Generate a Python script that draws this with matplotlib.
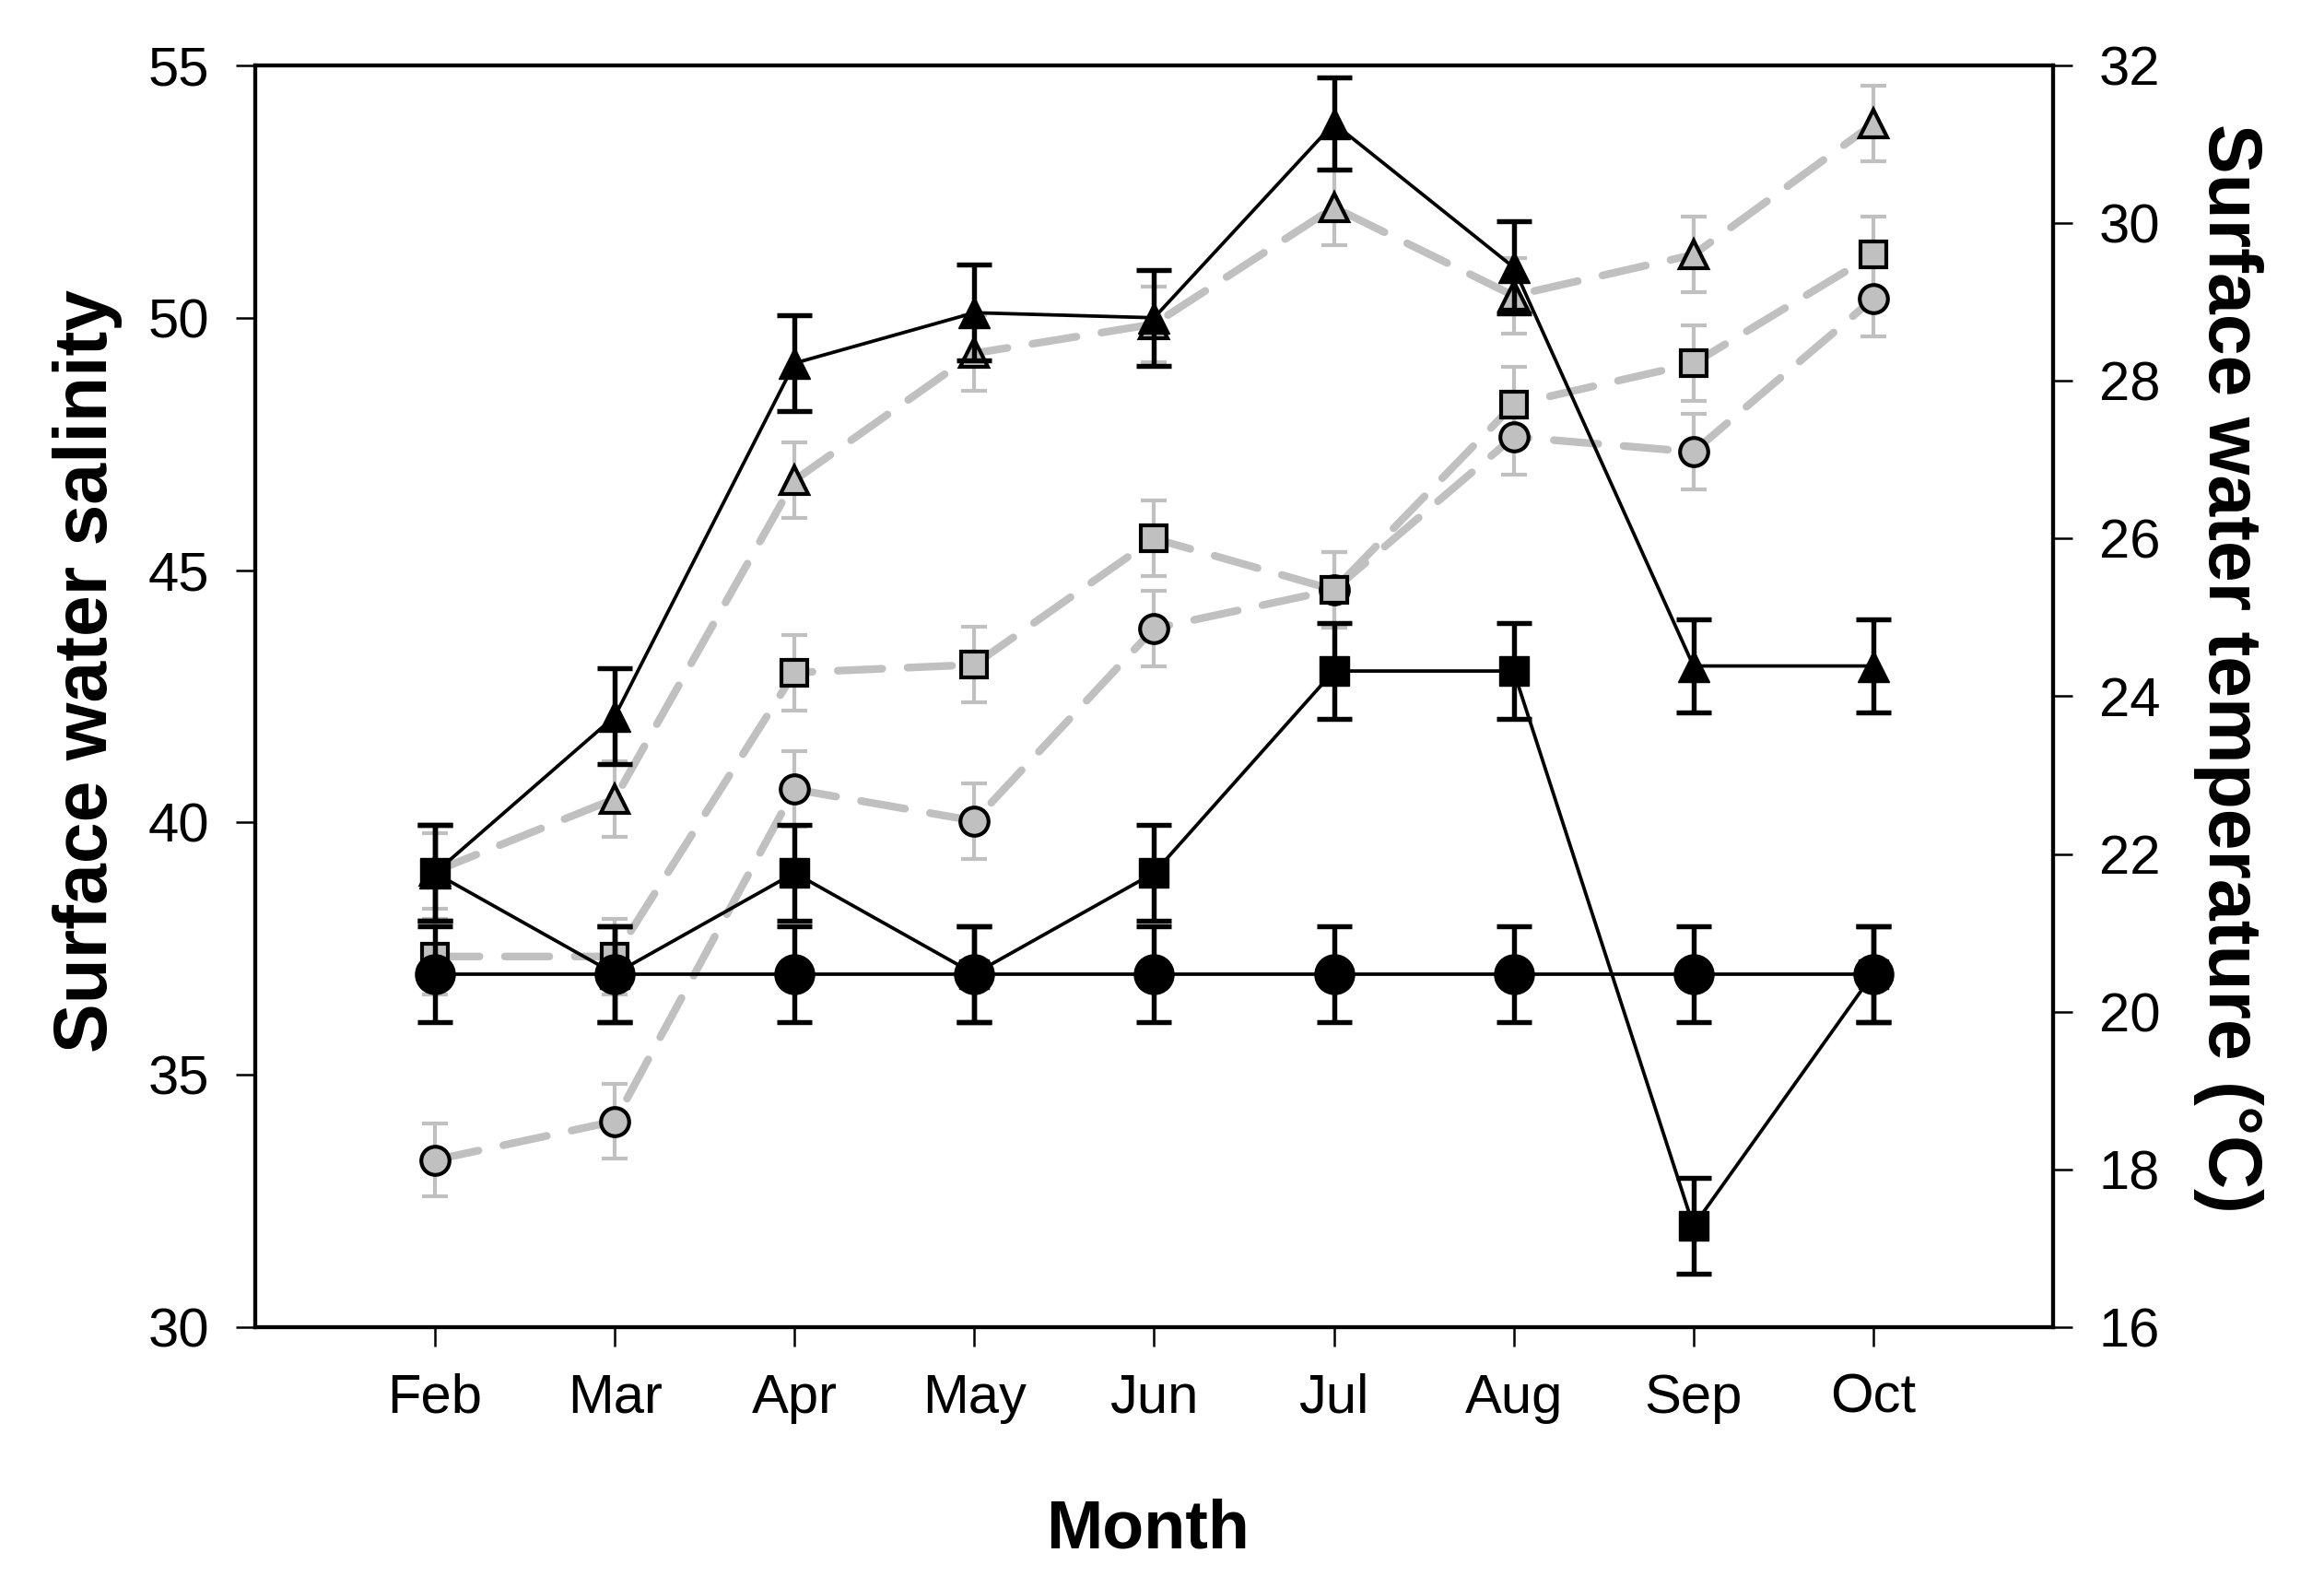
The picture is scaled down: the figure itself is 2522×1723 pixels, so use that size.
import numpy as np
import matplotlib.pyplot as plt

plt.rcParams['font.family'] = ['Liberation Sans', 'DejaVu Sans']

months = ['Feb', 'Mar', 'Apr', 'May', 'Jun', 'Jul', 'Aug', 'Sep', 'Oct']

# salinity (left axis), black solid lines
sal_circle = [37, 37, 37, 37, 37, 37, 37, 37, 37]
sal_circle_err = [0.95, 0.95, 0.95, 0.95, 0.95, 0.95, 0.95, 0.95, 0.95]
sal_square = [39, 37, 39, 37, 39, 43, 43, 32, 37]
sal_square_err = [0.95, 0.95, 0.95, 0.95, 0.95, 0.95, 0.95, 0.95, 0.95]
sal_triangle = [39, 42.1, 49.1, 50.1, 50, 53.85, 51, 43.1, 43.1]
sal_triangle_err = [0.95, 0.95, 0.95, 0.95, 0.95, 0.92, 0.92, 0.92, 0.92]

# temperature (right axis), grey dashed lines
temp_circle = [18.12, 18.61, 22.82, 22.42, 24.86, 25.35, 27.29, 27.1, 29.04]
temp_circle_err = [0.46, 0.47, 0.48, 0.48, 0.48, 0.48, 0.48, 0.48, 0.48]
temp_square = [20.7, 20.7, 24.3, 24.4, 26.0, 25.35, 27.7, 28.22, 29.6]
temp_square_err = [0.48, 0.48, 0.48, 0.48, 0.48, 0.48, 0.48, 0.48, 0.48]
temp_triangle = [21.78, 22.7, 26.74, 28.35, 28.72, 30.2, 29.08, 29.6, 31.26]
temp_triangle_err = [0.48, 0.48, 0.48, 0.48, 0.48, 0.48, 0.48, 0.48, 0.48]

x = np.arange(1, len(months) + 1)
grey = '#c0c0c0'

fig = plt.figure(figsize=(25.22, 17.23), dpi=100)
ax = fig.add_axes([0.1098, 0.1643, 0.7736, 0.7945])
ax2 = ax.twinx()

# grey series behind the black ones
ax.set_zorder(ax2.get_zorder() + 1)
ax.patch.set_visible(False)

dash = (0, (5.8, 3.3))
for vals, errs, mk, ms in [(temp_circle, temp_circle_err, 'o', 22),
                           (temp_square, temp_square_err, 's', 20),
                           (temp_triangle, temp_triangle_err, '^', 22)]:
    ax2.errorbar(x, vals, yerr=errs, fmt='none', ecolor=grey,
                 elinewidth=3, capsize=10.4, capthick=3, zorder=2)
    line, = ax2.plot(x, vals, color=grey, lw=6, linestyle=dash, zorder=3)
    line.set_dash_capstyle('round')
    ax2.plot(x, vals, linestyle='none', marker=mk, ms=ms, mfc=grey,
             mec='black', mew=3, zorder=4)

for vals, errs, mk, ms in [(sal_circle, sal_circle_err, 'o', 31),
                           (sal_square, sal_square_err, 's', 23),
                           (sal_triangle, sal_triangle_err, '^', 25)]:
    ax.errorbar(x, vals, yerr=errs, fmt='none', ecolor='black',
                elinewidth=3.9, capsize=13.8, capthick=3.9, zorder=2)
    ax.plot(x, vals, color='black', lw=2.7, marker=mk, ms=ms,
            mfc='black', mec='black', mew=1, zorder=3)

ax.set_xlim(0, 10)
ax.set_ylim(30, 55)
ax2.set_ylim(16, 32)
ax.set_xticks(x)
ax.set_xticklabels(months)
ax.set_yticks(np.arange(30, 56, 5))
ax2.set_yticks(np.arange(16, 33, 2))

for a in (ax, ax2):
    for s in a.spines.values():
        s.set_linewidth(3)
    a.tick_params(direction='out', length=15, width=1.8, labelsize=43, pad=21)

fig.text(0.0377, 0.5775, 'Surface water salinity', rotation=90,
         ha='center', va='center', fontsize=58, fontweight='bold')
fig.text(0.9586, 0.5792, 'Surface water temperature (°C)', rotation=270,
         ha='center', va='center', fontsize=58, fontweight='bold')
fig.text(0.4937, 1 - 1680 / 1723, 'Month', ha='center', va='baseline',
         fontsize=53, fontweight='bold')

fig.savefig('out.png', dpi=100)
